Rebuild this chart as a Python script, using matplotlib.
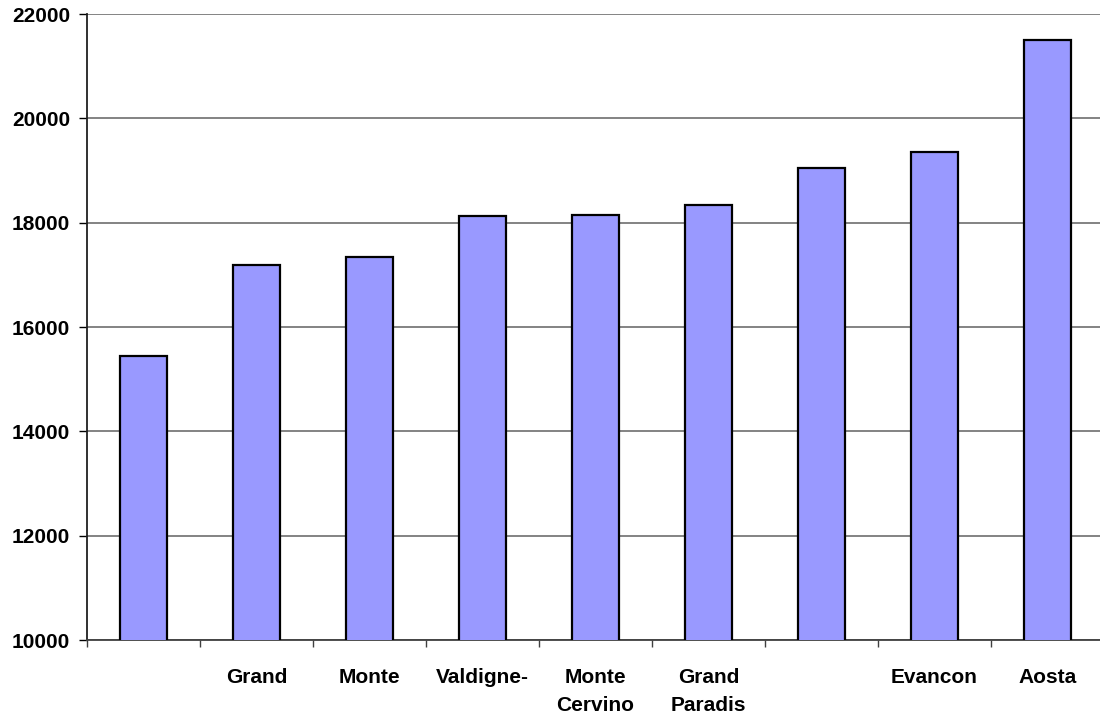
import matplotlib.pyplot as plt
import numpy as np

categories = ["", "Grand", "Monte", "Valdigne-", "Monte\nCervino", "Grand\nParadis", "", "Evancon", "Aosta"]
values = [15440, 17190, 17340, 18120, 18140, 18340, 19050, 19360, 21510]
yticks = [10000, 12000, 14000, 16000, 18000, 20000, 22000]

plt.rcParams['font.family'] = ['Liberation Sans', 'DejaVu Sans']

fig = plt.figure(figsize=(11, 7.2), dpi=100)
ax = fig.add_axes([0.0791, 0.1111, 0.9245, 0.8694])

x = np.arange(len(categories))
ax.bar(x, values, width=0.41, color="#9999FF", edgecolor="black", linewidth=1.6, zorder=3)

ax.set_xlim(-0.5, len(categories) - 0.5)
ax.set_ylim(10000, 22000)
ax.set_yticks(yticks)
ax.set_yticklabels([str(v) for v in yticks], fontsize=15, fontweight="bold")
ax.yaxis.grid(True, color="#7a7a7a", linewidth=1.3, zorder=0)

# boundary ticks (major) and centred labels (minor)
ax.set_xticks(np.arange(len(categories) + 1) - 0.5)
ax.set_xticklabels([])
ax.set_xticks(x, minor=True)
ax.set_xticklabels(categories, minor=True, fontsize=15, fontweight="bold", linespacing=1.6)
ax.tick_params(axis="x", which="major", length=5, width=1, color="#404040")
ax.tick_params(axis="x", which="minor", length=0, pad=20)
ax.tick_params(axis="y", length=6, width=1, pad=6)

for s in ["top", "right"]:
    ax.spines[s].set_visible(False)
ax.spines["left"].set_color("#202020")
ax.spines["left"].set_linewidth(1.3)
ax.spines["bottom"].set_color("#404040")
ax.spines["bottom"].set_linewidth(1.3)

fig.savefig("out.png", dpi=100)
